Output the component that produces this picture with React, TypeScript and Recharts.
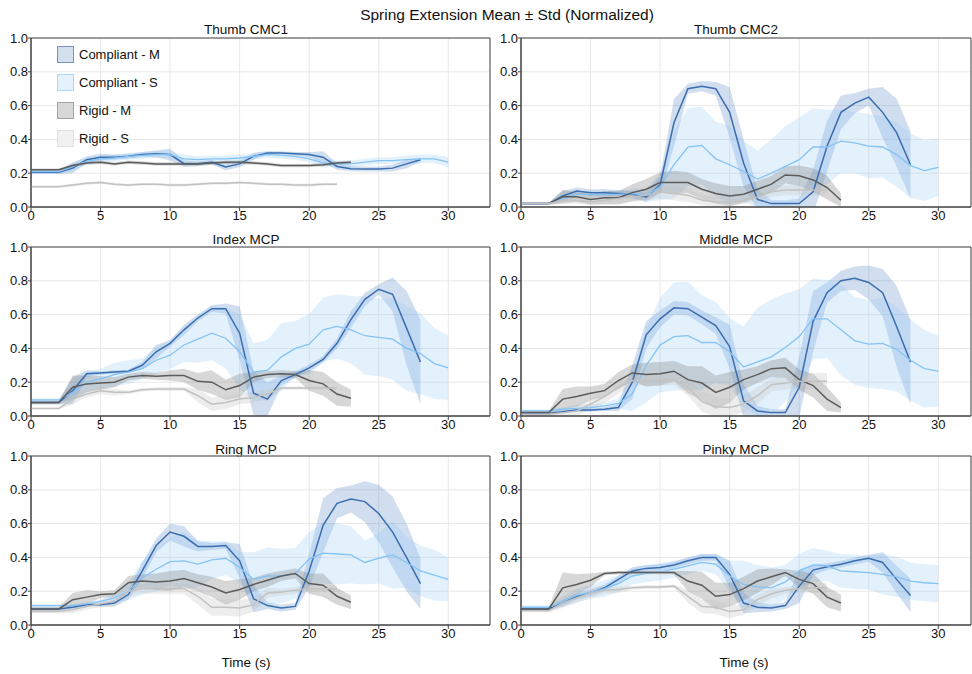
import React from 'react';
import { ComposedChart, Area, Line, XAxis, YAxis, CartesianGrid, ReferenceArea } from 'recharts';

// time axis (s)
const time = [0, 1, 2, 3, 4, 5, 6, 7, 8, 9, 10, 11, 12, 13, 14, 15, 16, 17, 18, 19, 20, 21, 22, 23, 24, 25, 26, 27, 28, 29, 30];
const xTicks = [0, 5, 10, 15, 20, 25, 30];
const yTicks = [0, 0.2, 0.4, 0.6, 0.8, 1.0];

// Thumb CMC1
const cmc1CompM = [0.205, 0.205, 0.205, 0.23, 0.28, 0.295, 0.295, 0.3, 0.31, 0.315, 0.31, 0.256, 0.256, 0.265, 0.237, 0.255, 0.3, 0.32, 0.32, 0.315, 0.31, 0.295, 0.24, 0.227, 0.225, 0.225, 0.23, 0.255, 0.28];
const cmc1CompMStd = [0.01, 0.01, 0.01, 0.03, 0.02, 0.02, 0.015, 0.015, 0.015, 0.02, 0.035, 0.02, 0.015, 0.015, 0.02, 0.02, 0.02, 0.01, 0.01, 0.01, 0.015, 0.035, 0.02, 0.015, 0.015, 0.015, 0.02, 0.025, 0.015];
const cmc1CompS = [0.21, 0.21, 0.21, 0.24, 0.27, 0.285, 0.29, 0.3, 0.305, 0.31, 0.31, 0.285, 0.28, 0.285, 0.285, 0.29, 0.3, 0.31, 0.305, 0.3, 0.285, 0.26, 0.255, 0.255, 0.265, 0.275, 0.275, 0.28, 0.285, 0.285, 0.265];
const cmc1CompSStd = [0.015, 0.015, 0.015, 0.025, 0.02, 0.02, 0.02, 0.02, 0.02, 0.02, 0.02, 0.025, 0.02, 0.02, 0.02, 0.02, 0.02, 0.02, 0.02, 0.02, 0.02, 0.025, 0.02, 0.02, 0.02, 0.02, 0.02, 0.025, 0.025, 0.025, 0.03];
const cmc1RigM = [0.22, 0.22, 0.22, 0.245, 0.26, 0.265, 0.255, 0.265, 0.26, 0.255, 0.255, 0.255, 0.255, 0.26, 0.265, 0.265, 0.26, 0.255, 0.245, 0.245, 0.245, 0.25, 0.26, 0.265];
const cmc1RigMStd = [0.008, 0.008, 0.008, 0.01, 0.01, 0.01, 0.01, 0.01, 0.01, 0.01, 0.01, 0.01, 0.01, 0.01, 0.01, 0.01, 0.01, 0.01, 0.01, 0.01, 0.01, 0.01, 0.01, 0.01];
const cmc1RigS = [0.12, 0.12, 0.12, 0.13, 0.14, 0.145, 0.135, 0.13, 0.135, 0.135, 0.13, 0.13, 0.135, 0.14, 0.14, 0.145, 0.14, 0.135, 0.135, 0.13, 0.13, 0.135, 0.135];
const cmc1RigSStd = [0.008, 0.008, 0.008, 0.008, 0.008, 0.008, 0.008, 0.008, 0.008, 0.008, 0.008, 0.008, 0.008, 0.008, 0.008, 0.008, 0.008, 0.008, 0.008, 0.008, 0.008, 0.008, 0.008];

// Thumb CMC2
const cmc2CompM = [0.02, 0.02, 0.02, 0.065, 0.095, 0.085, 0.085, 0.08, 0.075, 0.06, 0.13, 0.5, 0.7, 0.715, 0.7, 0.56, 0.26, 0.045, 0.02, 0.02, 0.02, 0.09, 0.36, 0.56, 0.615, 0.65, 0.56, 0.44, 0.25];
const cmc2CompMStd = [0.005, 0.005, 0.005, 0.03, 0.02, 0.02, 0.02, 0.02, 0.02, 0.03, 0.05, 0.14, 0.03, 0.03, 0.04, 0.15, 0.14, 0.06, 0.02, 0.02, 0.03, 0.13, 0.15, 0.1, 0.06, 0.05, 0.15, 0.2, 0.2];
const cmc2CompS = [0.02, 0.02, 0.02, 0.05, 0.075, 0.075, 0.075, 0.075, 0.08, 0.07, 0.12, 0.25, 0.355, 0.365, 0.285, 0.25, 0.21, 0.165, 0.2, 0.24, 0.28, 0.355, 0.355, 0.39, 0.38, 0.36, 0.355, 0.31, 0.245, 0.215, 0.235];
const cmc2CompSStd = [0.005, 0.005, 0.005, 0.02, 0.02, 0.02, 0.02, 0.02, 0.03, 0.04, 0.08, 0.2, 0.23, 0.23, 0.22, 0.23, 0.18, 0.17, 0.2, 0.24, 0.25, 0.23, 0.22, 0.19, 0.18, 0.19, 0.18, 0.19, 0.19, 0.18, 0.17];
const cmc2RigM = [0.02, 0.02, 0.02, 0.06, 0.06, 0.045, 0.055, 0.055, 0.085, 0.105, 0.145, 0.145, 0.145, 0.105, 0.08, 0.065, 0.075, 0.105, 0.135, 0.19, 0.185, 0.16, 0.115, 0.04];
const cmc2RigMStd = [0.005, 0.005, 0.005, 0.04, 0.03, 0.03, 0.04, 0.04, 0.05, 0.06, 0.06, 0.07, 0.06, 0.06, 0.06, 0.06, 0.05, 0.05, 0.05, 0.05, 0.06, 0.07, 0.07, 0.04];
const cmc2RigS = [0.02, 0.02, 0.02, 0.04, 0.04, 0.03, 0.04, 0.05, 0.06, 0.07, 0.09, 0.08, 0.07, 0.04, 0.03, 0.025, 0.04, 0.06, 0.09, 0.1, 0.1, 0.1, 0.1];
const cmc2RigSStd = [0.005, 0.005, 0.005, 0.02, 0.02, 0.02, 0.02, 0.03, 0.03, 0.03, 0.04, 0.04, 0.04, 0.03, 0.03, 0.02, 0.02, 0.03, 0.03, 0.03, 0.03, 0.03, 0.03];

// Index MCP
const indexCompM = [0.08, 0.08, 0.08, 0.15, 0.25, 0.255, 0.26, 0.265, 0.3, 0.38, 0.43, 0.51, 0.58, 0.635, 0.635, 0.49, 0.135, 0.1, 0.21, 0.245, 0.285, 0.335, 0.43, 0.57, 0.69, 0.75, 0.72, 0.52, 0.32];
const indexCompMStd = [0.01, 0.01, 0.01, 0.08, 0.02, 0.01, 0.01, 0.01, 0.02, 0.04, 0.02, 0.03, 0.02, 0.02, 0.03, 0.16, 0.13, 0.1, 0.03, 0.02, 0.02, 0.02, 0.03, 0.05, 0.04, 0.03, 0.1, 0.22, 0.25];
const indexCompS = [0.095, 0.095, 0.095, 0.14, 0.2, 0.22, 0.245, 0.26, 0.28, 0.33, 0.36, 0.42, 0.455, 0.49, 0.46, 0.38, 0.26, 0.27, 0.35, 0.4, 0.425, 0.51, 0.53, 0.51, 0.475, 0.465, 0.455, 0.4, 0.37, 0.31, 0.285];
const indexCompSStd = [0.01, 0.01, 0.01, 0.05, 0.06, 0.06, 0.07, 0.07, 0.06, 0.08, 0.08, 0.1, 0.14, 0.16, 0.18, 0.22, 0.17, 0.18, 0.2, 0.16, 0.18, 0.19, 0.19, 0.2, 0.23, 0.23, 0.24, 0.25, 0.24, 0.21, 0.19];
const indexRigM = [0.08, 0.08, 0.08, 0.17, 0.19, 0.195, 0.2, 0.23, 0.24, 0.235, 0.24, 0.24, 0.205, 0.2, 0.155, 0.18, 0.23, 0.245, 0.25, 0.245, 0.21, 0.19, 0.13, 0.105];
const indexRigMStd = [0.01, 0.01, 0.01, 0.07, 0.05, 0.04, 0.03, 0.02, 0.02, 0.02, 0.03, 0.04, 0.05, 0.07, 0.06, 0.07, 0.03, 0.02, 0.02, 0.02, 0.06, 0.07, 0.07, 0.05];
const indexRigS = [0.045, 0.045, 0.045, 0.1, 0.13, 0.15, 0.14, 0.14, 0.155, 0.16, 0.16, 0.16, 0.12, 0.07, 0.08, 0.1, 0.11, 0.13, 0.165, 0.165, 0.165, 0.165, 0.165];
const indexRigSStd = [0.005, 0.005, 0.005, 0.03, 0.02, 0.02, 0.02, 0.01, 0.01, 0.01, 0.01, 0.01, 0.04, 0.04, 0.04, 0.03, 0.03, 0.03, 0.01, 0.01, 0.01, 0.01, 0.01];

// Middle MCP
const middleCompM = [0.015, 0.015, 0.015, 0.025, 0.035, 0.035, 0.04, 0.05, 0.2, 0.48, 0.575, 0.64, 0.635, 0.585, 0.535, 0.41, 0.09, 0.03, 0.02, 0.02, 0.17, 0.56, 0.73, 0.8, 0.815, 0.79, 0.73, 0.53, 0.32];
const middleCompMStd = [0.01, 0.01, 0.01, 0.01, 0.01, 0.01, 0.01, 0.02, 0.1, 0.08, 0.05, 0.04, 0.04, 0.04, 0.05, 0.13, 0.1, 0.03, 0.02, 0.02, 0.18, 0.18, 0.06, 0.06, 0.07, 0.1, 0.14, 0.24, 0.25];
const middleCompS = [0.03, 0.03, 0.03, 0.04, 0.045, 0.05, 0.06, 0.075, 0.13, 0.3, 0.42, 0.47, 0.475, 0.435, 0.435, 0.38, 0.29, 0.32, 0.35, 0.405, 0.47, 0.575, 0.575, 0.51, 0.445, 0.425, 0.43, 0.395, 0.33, 0.28, 0.265];
const middleCompSStd = [0.01, 0.01, 0.01, 0.01, 0.02, 0.02, 0.02, 0.03, 0.1, 0.22, 0.28, 0.32, 0.32, 0.28, 0.24, 0.2, 0.24, 0.32, 0.34, 0.32, 0.28, 0.24, 0.23, 0.27, 0.26, 0.26, 0.27, 0.25, 0.24, 0.23, 0.21];
const middleRigM = [0.02, 0.02, 0.02, 0.1, 0.115, 0.135, 0.15, 0.21, 0.255, 0.245, 0.25, 0.265, 0.215, 0.195, 0.14, 0.17, 0.215, 0.245, 0.28, 0.285, 0.215, 0.18, 0.1, 0.05];
const middleRigMStd = [0.01, 0.01, 0.01, 0.06, 0.06, 0.04, 0.04, 0.05, 0.05, 0.07, 0.07, 0.06, 0.08, 0.1, 0.1, 0.09, 0.06, 0.05, 0.05, 0.06, 0.06, 0.07, 0.07, 0.03];
const middleRigS = [0.01, 0.01, 0.01, 0.02, 0.03, 0.07, 0.115, 0.17, 0.21, 0.21, 0.21, 0.215, 0.17, 0.085, 0.055, 0.05, 0.07, 0.12, 0.185, 0.195, 0.205, 0.205, 0.205];
const middleRigSStd = [0.005, 0.005, 0.005, 0.02, 0.03, 0.03, 0.04, 0.04, 0.03, 0.03, 0.03, 0.03, 0.05, 0.06, 0.06, 0.05, 0.05, 0.05, 0.04, 0.04, 0.04, 0.05, 0.05];

// Ring MCP
const ringCompM = [0.095, 0.095, 0.095, 0.105, 0.12, 0.12, 0.13, 0.18, 0.32, 0.47, 0.55, 0.525, 0.465, 0.465, 0.47, 0.38, 0.155, 0.115, 0.1, 0.11, 0.32, 0.59, 0.72, 0.745, 0.73, 0.66, 0.55, 0.4, 0.245];
const ringCompMStd = [0.01, 0.01, 0.01, 0.01, 0.01, 0.01, 0.02, 0.03, 0.05, 0.04, 0.05, 0.06, 0.03, 0.02, 0.02, 0.1, 0.08, 0.02, 0.02, 0.02, 0.1, 0.16, 0.09, 0.08, 0.12, 0.17, 0.21, 0.2, 0.15];
const ringCompS = [0.115, 0.115, 0.115, 0.115, 0.125, 0.14, 0.16, 0.2, 0.28, 0.33, 0.375, 0.38, 0.36, 0.385, 0.395, 0.34, 0.27, 0.29, 0.29, 0.305, 0.39, 0.425, 0.42, 0.415, 0.37, 0.395, 0.415, 0.37, 0.32, 0.295, 0.27];
const ringCompSStd = [0.01, 0.01, 0.01, 0.01, 0.01, 0.01, 0.03, 0.05, 0.1, 0.13, 0.14, 0.17, 0.14, 0.11, 0.1, 0.09, 0.16, 0.17, 0.16, 0.15, 0.16, 0.18, 0.18, 0.17, 0.13, 0.15, 0.2, 0.15, 0.15, 0.15, 0.13];
const ringRigM = [0.095, 0.095, 0.095, 0.15, 0.165, 0.18, 0.185, 0.25, 0.26, 0.255, 0.26, 0.275, 0.25, 0.225, 0.19, 0.21, 0.24, 0.265, 0.29, 0.305, 0.245, 0.235, 0.17, 0.135];
const ringRigMStd = [0.01, 0.01, 0.01, 0.04, 0.04, 0.02, 0.02, 0.04, 0.04, 0.05, 0.06, 0.05, 0.05, 0.06, 0.07, 0.06, 0.04, 0.04, 0.03, 0.03, 0.06, 0.07, 0.05, 0.04];
const ringRigS = [0.08, 0.08, 0.08, 0.09, 0.11, 0.125, 0.14, 0.2, 0.215, 0.215, 0.215, 0.215, 0.17, 0.105, 0.105, 0.1, 0.12, 0.19, 0.195, 0.205, 0.215, 0.215, 0.215];
const ringRigSStd = [0.01, 0.01, 0.01, 0.02, 0.02, 0.02, 0.03, 0.03, 0.03, 0.03, 0.03, 0.03, 0.05, 0.05, 0.05, 0.05, 0.04, 0.03, 0.02, 0.02, 0.02, 0.02, 0.02];

// Pinky MCP
const pinkyCompM = [0.095, 0.095, 0.095, 0.13, 0.17, 0.19, 0.22, 0.27, 0.32, 0.335, 0.34, 0.355, 0.38, 0.4, 0.4, 0.3, 0.13, 0.105, 0.1, 0.115, 0.23, 0.325, 0.345, 0.36, 0.38, 0.395, 0.37, 0.27, 0.175];
const pinkyCompMStd = [0.01, 0.01, 0.01, 0.02, 0.02, 0.02, 0.02, 0.02, 0.02, 0.02, 0.02, 0.02, 0.02, 0.02, 0.02, 0.08, 0.06, 0.03, 0.02, 0.02, 0.1, 0.03, 0.02, 0.02, 0.02, 0.02, 0.06, 0.08, 0.1];
const pinkyCompS = [0.105, 0.105, 0.105, 0.14, 0.175, 0.195, 0.215, 0.245, 0.29, 0.305, 0.315, 0.33, 0.35, 0.37, 0.36, 0.29, 0.24, 0.225, 0.22, 0.255, 0.32, 0.355, 0.35, 0.32, 0.315, 0.31, 0.3, 0.285, 0.26, 0.25, 0.245];
const pinkyCompSStd = [0.01, 0.01, 0.01, 0.03, 0.04, 0.04, 0.05, 0.05, 0.05, 0.05, 0.05, 0.05, 0.05, 0.05, 0.06, 0.09, 0.14, 0.13, 0.12, 0.1, 0.1, 0.1, 0.09, 0.1, 0.1, 0.1, 0.12, 0.12, 0.11, 0.11, 0.11];
const pinkyRigM = [0.095, 0.095, 0.095, 0.22, 0.24, 0.265, 0.305, 0.31, 0.31, 0.31, 0.31, 0.31, 0.26, 0.235, 0.17, 0.18, 0.215, 0.26, 0.285, 0.31, 0.27, 0.245, 0.165, 0.13];
const pinkyRigMStd = [0.01, 0.01, 0.01, 0.09, 0.06, 0.04, 0.01, 0.01, 0.01, 0.01, 0.01, 0.01, 0.06, 0.08, 0.08, 0.07, 0.07, 0.07, 0.05, 0.02, 0.05, 0.06, 0.06, 0.05];
const pinkyRigS = [0.085, 0.085, 0.085, 0.13, 0.16, 0.19, 0.205, 0.21, 0.22, 0.225, 0.225, 0.23, 0.17, 0.11, 0.105, 0.08, 0.09, 0.15, 0.185, 0.205, 0.215, 0.22, 0.22];
const pinkyRigSStd = [0.01, 0.01, 0.01, 0.03, 0.03, 0.03, 0.02, 0.02, 0.01, 0.01, 0.01, 0.01, 0.04, 0.04, 0.04, 0.04, 0.03, 0.03, 0.03, 0.02, 0.02, 0.03, 0.03];

const FONT = '"Liberation Sans", Arial, Helvetica, sans-serif';

const seriesStyle = [
  { key: 'cm', label: 'Compliant - M', line: '#3b6daf', band: '#4a7ec2', bandOpacity: 0.26, width: 1.5, box: '#d4dfee', boxBorder: '#7196c6' },
  { key: 'cs', label: 'Compliant - S', line: '#84c3f5', band: '#8ec9f8', bandOpacity: 0.25, width: 1.3, box: '#e5f2fd', boxBorder: '#acd6f8' },
  { key: 'rm', label: 'Rigid - M', line: '#5c5c5c', band: '#7a7a7a', bandOpacity: 0.3, width: 1.5, box: '#d8d8d8', boxBorder: '#a3a3a3' },
  { key: 'rs', label: 'Rigid - S', line: '#c2c2c2', band: '#c4c4c4', bandOpacity: 0.3, width: 1.5, box: '#f1f1f1', boxBorder: '#e0e0e0' },
];

type Pair = [number[], number[]];

const panels: { title: string; col: number; row: number; series: Record<string, Pair> }[] = [
  { title: 'Thumb CMC1', col: 0, row: 0, series: { cm: [cmc1CompM, cmc1CompMStd], cs: [cmc1CompS, cmc1CompSStd], rm: [cmc1RigM, cmc1RigMStd], rs: [cmc1RigS, cmc1RigSStd] } },
  { title: 'Thumb CMC2', col: 1, row: 0, series: { cm: [cmc2CompM, cmc2CompMStd], cs: [cmc2CompS, cmc2CompSStd], rm: [cmc2RigM, cmc2RigMStd], rs: [cmc2RigS, cmc2RigSStd] } },
  { title: 'Index MCP', col: 0, row: 1, series: { cm: [indexCompM, indexCompMStd], cs: [indexCompS, indexCompSStd], rm: [indexRigM, indexRigMStd], rs: [indexRigS, indexRigSStd] } },
  { title: 'Middle MCP', col: 1, row: 1, series: { cm: [middleCompM, middleCompMStd], cs: [middleCompS, middleCompSStd], rm: [middleRigM, middleRigMStd], rs: [middleRigS, middleRigSStd] } },
  { title: 'Ring MCP', col: 0, row: 2, series: { cm: [ringCompM, ringCompMStd], cs: [ringCompS, ringCompSStd], rm: [ringRigM, ringRigMStd], rs: [ringRigS, ringRigSStd] } },
  { title: 'Pinky MCP', col: 1, row: 2, series: { cm: [pinkyCompM, pinkyCompMStd], cs: [pinkyCompS, pinkyCompSStd], rm: [pinkyRigM, pinkyRigMStd], rs: [pinkyRigS, pinkyRigSStd] } },
];

// layout of the plot boxes
const colLeft = [31, 521];
const colWidth = [459, 450];
const colMax = [33, 32.35];
const colTitleX = [246, 736];
const rowTop = [38, 247, 456];
const rowTitleY = [30, 240, 450];
const PLOT_H = 169;
const Y_AXIS_W = 31;
const PAD = 10;

const Panel = ({ p }: { p: (typeof panels)[number] }) => {
  const data = time.map((t, i) => {
    const row: Record<string, any> = { t };
    seriesStyle.forEach(({ key }) => {
      const [mean, std] = p.series[key];
      if (i < mean.length) {
        row[key] = mean[i];
        row[key + 'Band'] = [mean[i] - std[i], mean[i] + std[i]];
      }
    });
    return row;
  });
  const xMax = colMax[p.col];
  return (
    <div style={{ position: 'absolute', left: colLeft[p.col] - Y_AXIS_W, top: rowTop[p.row] - PAD }}>
      <ComposedChart
        width={Y_AXIS_W + colWidth[p.col] + PAD}
        height={PAD + PLOT_H + 24}
        data={data}
        margin={{ top: PAD, right: PAD, left: 0, bottom: 0 }}
      >
        <CartesianGrid stroke="#e8e8e8" strokeWidth={1} />
        <XAxis
          dataKey="t"
          type="number"
          domain={[0, xMax]}
          ticks={xTicks}
          interval={0}
          allowDataOverflow
          height={24}
          tickSize={4}
          tickMargin={0}
          stroke="#444"
          tick={{ fill: '#111', fontSize: 13, fontFamily: FONT }}
        />
        <YAxis
          type="number"
          domain={[0, 1]}
          ticks={yTicks}
          interval={0}
          allowDataOverflow
          width={Y_AXIS_W}
          tickSize={3}
          tickMargin={0}
          stroke="#444"
          tickFormatter={(v: number) => v.toFixed(1)}
          tick={{ fill: '#111', fontSize: 13, fontFamily: FONT }}
        />
        {seriesStyle.map((s) => (
          <Area
            key={s.key + 'Band'}
            type="linear"
            dataKey={s.key + 'Band'}
            stroke="none"
            fill={s.band}
            fillOpacity={s.bandOpacity}
            isAnimationActive={false}
            activeDot={false}
          />
        ))}
        {seriesStyle.map((s) => (
          <Line
            key={s.key}
            type="linear"
            dataKey={s.key}
            stroke={s.line}
            strokeWidth={s.width}
            dot={false}
            activeDot={false}
            isAnimationActive={false}
          />
        ))}
        <ReferenceArea x1={0} x2={xMax} y1={0} y2={1} fill="none" stroke="#444" strokeWidth={1} />
      </ComposedChart>
    </div>
  );
};

const Legend = () => (
  <div style={{ position: 'absolute', left: 57, top: 40, fontFamily: FONT, fontSize: 13, color: '#111' }}>
    {seriesStyle.map((s) => (
      <div key={s.key} style={{ display: 'flex', alignItems: 'center', height: 28 }}>
        <div style={{ width: 15, height: 15, background: s.box, border: `1px solid ${s.boxBorder}` }} />
        <span style={{ marginLeft: 5 }}>{s.label}</span>
      </div>
    ))}
  </div>
);

const centered = (x: number, y: number, size: number): React.CSSProperties => ({
  position: 'absolute',
  left: x - 200,
  width: 400,
  top: y - size * 0.6,
  textAlign: 'center',
  fontSize: size,
  lineHeight: `${size * 1.2}px`,
  fontFamily: FONT,
  color: '#111',
  whiteSpace: 'nowrap',
});

export default function App() {
  return (
    <div style={{ position: 'absolute', left: 0, top: 0, width: 972, height: 674, overflow: 'hidden', background: '#fff' }}>
      <div style={centered(507, 15, 15.5)}>Spring Extension Mean ± Std (Normalized)</div>
      {panels.map((p) => (
        <div key={p.title} style={centered(colTitleX[p.col], rowTitleY[p.row], 13.5)}>{p.title}</div>
      ))}
      {panels.map((p) => (
        <Panel key={p.title} p={p} />
      ))}
      <div style={centered(246, 663, 13.5)}>Time (s)</div>
      <div style={centered(744, 663, 13.5)}>Time (s)</div>
      <Legend />
    </div>
  );
}
